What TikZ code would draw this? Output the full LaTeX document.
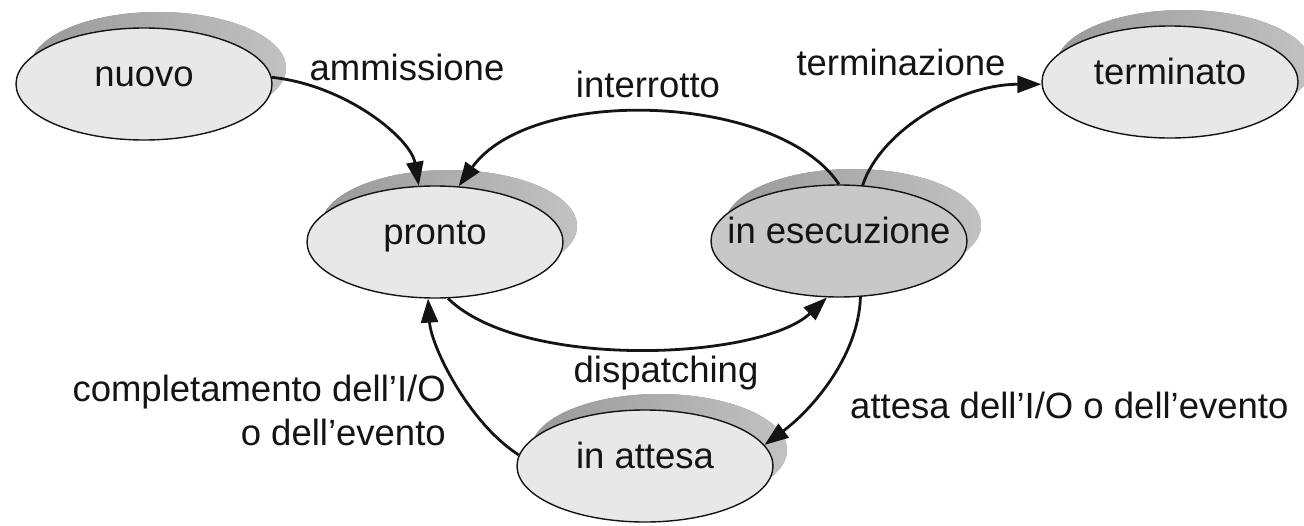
\documentclass[tikz,border=0pt]{standalone}
\usepackage{fontspec}
\setmainfont{Liberation Sans}
\usetikzlibrary{arrows.meta,shapes.geometric,shadows}

\definecolor{statefill}{HTML}{E8E8E8}
\definecolor{runfill}{HTML}{C8C8C8}
\definecolor{shadowdark}{HTML}{999999}
\definecolor{shadowlight}{HTML}{C2C2C2}
\definecolor{ink}{HTML}{141414}

% state names take no width, so the ellipse keeps its fixed size
\newcommand{\stname}[1]{\makebox[0pt]{#1}}

\begin{document}
\begin{tikzpicture}[x=1pt,y=-1pt,
  txt/.style={font=\fontsize{36.5}{44}\selectfont, text=ink, inner sep=0pt},
  state/.style={txt, ellipse, draw=ink, line width=1.4pt, fill=statefill,
    minimum width=256pt, minimum height=112pt,
    text height=1ex, text depth=0pt,
    drop shadow={shadow xshift=14pt, shadow yshift=16pt, opacity=1,
      left color=shadowdark, right color=shadowlight, draw=none}},
  running/.style={state, fill=runfill},
  trans/.style={draw=ink, line width=2.8pt, -{Triangle[length=24pt,width=17pt]}},
  lbl/.style={txt}]

\useasboundingbox (0,0) rectangle (1304,525);

% process states
\node[state]   (nuovo)     at (144,84)  {\stname{nuovo}};
\node[state]   (terminato) at (1170,82) {\stname{terminato}};
\node[state]   (pronto)    at (435,242) {\stname{pronto}};
\node[running] (esec)      at (839,241) {\stname{in esecuzione}};
\node[state]   (attesa)    at (645,466) {\stname{in attesa}};

% transitions
\draw[trans] (nuovo.3)    .. controls +(75,8)    and +(-8,-47)  .. (pronto.106);
\draw[trans] (esec.90)    .. controls +(-60,-91) and +(73,-102) .. (pronto.67);
\draw[trans] (esec.67)    .. controls +(18,-55)  and +(-82,0)   .. (terminato.181);
\draw[trans] (pronto.-77) .. controls +(73,72)   and +(-67,63)  .. (esec.-102);
\draw[trans] (esec.-69)   .. controls +(-2,60)   and +(47,-35)  .. (attesa.10);
\draw[trans] (attesa.175) .. controls +(-50,-32) and +(3,48)    .. (pronto.-97);

% transition labels
\node[lbl, anchor=base] (l-amm)  at (407,80)  {ammissione};
\node[lbl, anchor=base] (l-int)  at (648,97)  {interrotto};
\node[lbl, anchor=base] (l-term) at (901,75)  {terminazione};
\node[lbl, anchor=base] (l-disp) at (666,382) {dispatching};
\node[lbl, anchor=base west] (l-wait) at (850,418) {attesa dell’I/O o dell’evento};
\node[lbl, anchor=east, align=right] (l-comp) at (446,410)
  {completamento dell’I/O\\o dell’evento};
\end{tikzpicture}
\end{document}
